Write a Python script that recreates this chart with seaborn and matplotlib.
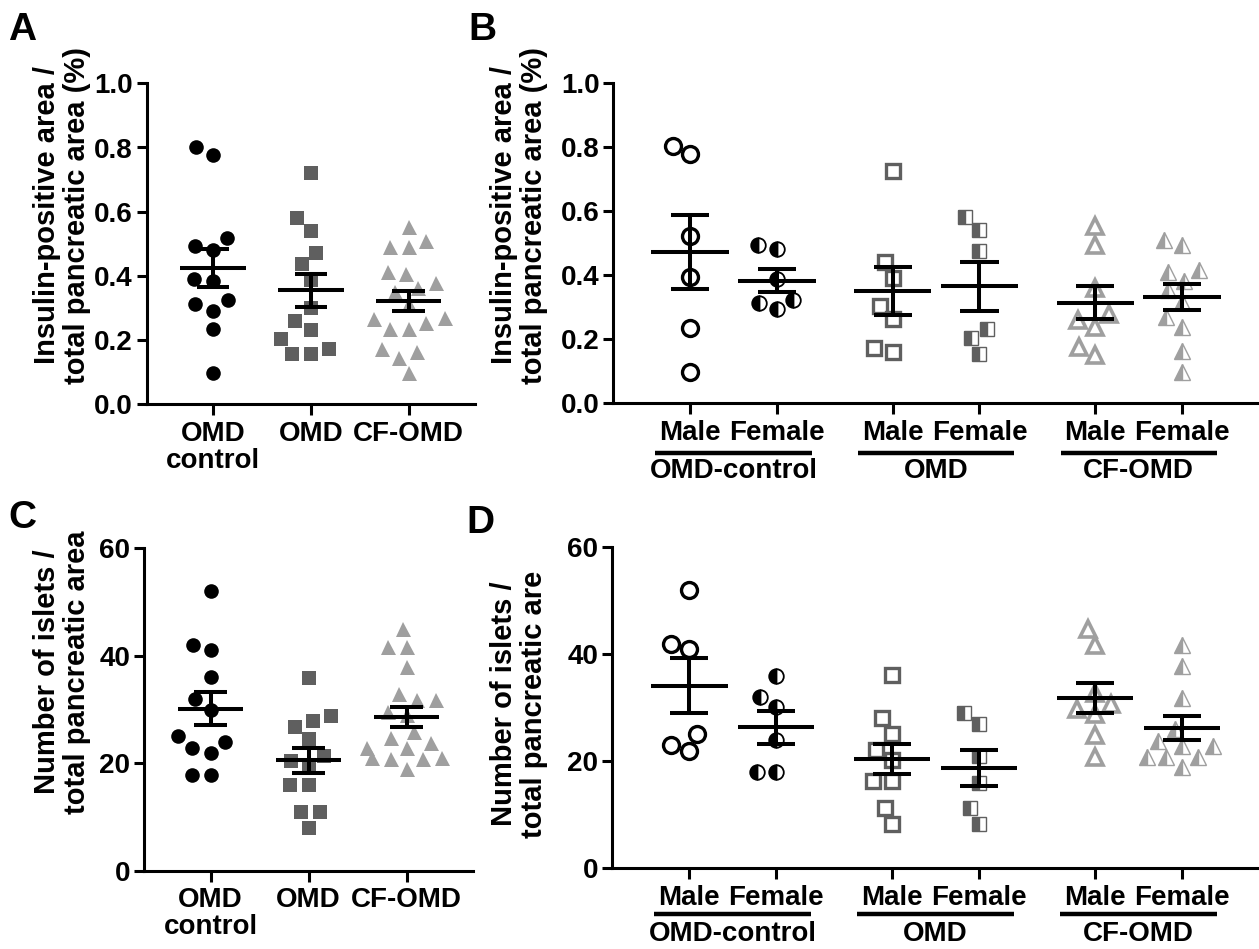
import numpy as np
import seaborn as sns
import matplotlib
matplotlib.use("Agg")
import matplotlib.pyplot as plt
from matplotlib.transforms import blended_transform_factory

# ---------------- data ----------------
groups_simple = ["OMD\ncontrol", "OMD", "CF-OMD"]
groups_sex = ["OMD-control", "OMD", "CF-OMD"]
sexes = ["Male", "Female"]

a_control = [0.80, 0.777, 0.519, 0.494, 0.481, 0.389, 0.385, 0.325, 0.312, 0.292, 0.234, 0.097]
a_omd = [0.722, 0.579, 0.540, 0.472, 0.436, 0.387, 0.301, 0.261, 0.232, 0.203, 0.171, 0.158, 0.156]
a_cfomd = [0.553, 0.510, 0.491, 0.491, 0.413, 0.406, 0.377, 0.361, 0.351, 0.312,
           0.268, 0.265, 0.254, 0.234, 0.234, 0.171, 0.164, 0.145, 0.097]

b_control_m = [0.805, 0.780, 0.522, 0.395, 0.236, 0.098]
b_control_f = [0.496, 0.483, 0.389, 0.324, 0.314, 0.295]
b_omd_m = [0.727, 0.441, 0.390, 0.304, 0.262, 0.174, 0.160]
b_omd_f = [0.581, 0.543, 0.475, 0.233, 0.205, 0.155]
b_cfomd_m = [0.555, 0.494, 0.361, 0.278, 0.260, 0.239, 0.177, 0.150]
b_cfomd_f = [0.511, 0.496, 0.418, 0.410, 0.382, 0.353, 0.316, 0.270, 0.238, 0.163, 0.098]

c_control = [52.1, 42.0, 41.0, 36.0, 31.9, 29.9, 25.0, 24.0, 22.8, 21.9, 17.8, 17.8]
c_omd = [35.9, 28.8, 27.9, 26.8, 24.5, 21.4, 20.5, 19.5, 15.9, 15.9, 11.0, 11.0, 7.9]
c_cfomd = [45.0, 41.7, 41.7, 37.9, 32.9, 31.8, 31.8, 29.6, 29.0, 25.9, 24.7, 23.7,
           22.8, 22.8, 20.9, 20.9, 20.7, 20.7, 18.9]

d_control_m = [51.9, 41.9, 40.9, 25.0, 23.0, 21.9]
d_control_f = [35.8, 31.9, 30.1, 24.0, 18.0, 18.0]
d_omd_m = [36.1, 28.0, 25.1, 22.1, 20.2, 16.2, 16.2, 11.3, 8.2]
d_omd_f = [29.0, 27.0, 20.9, 16.0, 11.2, 8.2]
d_cfomd_m = [44.7, 41.6, 32.7, 30.7, 29.8, 28.8, 24.8, 20.8]
d_cfomd_f = [41.6, 37.7, 31.8, 25.9, 23.8, 22.8, 22.8, 20.8, 20.8, 20.8, 18.9]

yticks_ab = [0.0, 0.2, 0.4, 0.6, 0.8, 1.0]
yticks_cd = [0, 20, 40, 60]

ylabel_a = "Insulin-positive area /\ntotal pancreatic area (%)"
ylabel_c = "Number of islets /\ntotal pancreatic area"
ylabel_d = "Number of islets /\ntotal pancreatic are"

# ---------------- style ----------------
sns.set_style("ticks", {"axes.edgecolor": "black", "xtick.color": "black",
                        "ytick.color": "black", "text.color": "black",
                        "axes.labelcolor": "black"})
plt.rcParams["font.family"] = ["Liberation Sans", "DejaVu Sans"]
plt.rcParams["font.weight"] = "bold"
plt.rcParams["axes.labelweight"] = "bold"
plt.rcParams["text.color"] = "black"

BLACK = "#000000"
DARK = "#5f5f5f"
LIGHT = "#9f9f9f"
LW = 2.9
SPINE = 2.2
FS = 20
SWARM_SIZE = 13.0  # spacing used for the beeswarm layout

W, H = 1259, 949
fig = plt.figure(figsize=(W / 100, H / 100), dpi=100)


def add_ax(l, t, r, b):
    return fig.add_axes([l / W, 1 - b / H, (r - l) / W, (b - t) / H])


axA = add_ax(146.7, 83.3, 475, 404.3)
axB = add_ax(613.3, 83.3, 1257, 403.3)
axC = add_ax(144, 548.3, 473.3, 870.7)
axD = add_ax(612.3, 546.7, 1257, 868.3)

pending = []


def swarm(ax, st, **kw):
    n0 = len(ax.collections)
    sns.swarmplot(ax=ax, color=st["color"], marker="o", size=SWARM_SIZE,
                  linewidth=0, zorder=2, **kw)
    pending.append((ax, list(ax.collections[n0:]), st))


def mean_sem(ax, x, vals, hw, cw):
    v = np.asarray(vals, float)
    m = v.mean()
    se = v.std(ddof=1) / np.sqrt(len(v))
    ax.hlines(m, x - hw, x + hw, color="k", lw=LW, zorder=6)
    ax.vlines(x, m - se, m + se, color="k", lw=LW, zorder=6)
    ax.hlines([m - se, m + se], x - cw, x + cw, color="k", lw=LW, zorder=6)


def style_axis(ax, ylim, yticks, fmt):
    sns.despine(ax=ax)
    for s in ("left", "bottom"):
        ax.spines[s].set_linewidth(SPINE)
    ax.set_ylim(*ylim)
    ax.set_yticks(yticks)
    ax.set_yticklabels([fmt.format(v) for v in yticks])
    ax.tick_params(axis="both", width=SPINE, length=7, labelsize=FS, pad=3,
                   colors="black")
    ax.set_xlabel("")
    ax.set_ylabel("")


simple_styles = [
    dict(color=BLACK, marker="o", kind="full", ms=10.5, mew=0),
    dict(color=DARK, marker="s", kind="full", ms=9.6, mew=0),
    dict(color=LIGHT, marker="^", kind="full", ms=10.8, mew=0),
]


def simple_panel(ax, series, ylim, yticks, fmt, hw, cw):
    for i, (vals, st) in enumerate(zip(series, simple_styles)):
        swarm(ax, st, x=[groups_simple[i]] * len(vals), y=vals, order=groups_simple)
        mean_sem(ax, i, vals, hw, cw)
    ax.set_xlim(-0.68, 2.68)
    style_axis(ax, ylim, yticks, fmt)
    ax.tick_params(axis="x", length=8, pad=4)
    ax.set_xticks(range(3))
    ax.set_xticklabels(groups_simple, linespacing=1.05)


simple_panel(axA, [a_control, a_omd, a_cfomd], (0, 1.0), yticks_ab, "{:.1f}", 0.335, 0.165)
simple_panel(axC, [c_control, c_omd, c_cfomd], (0, 60), yticks_cd, "{:.0f}", 0.335, 0.17)

# sex-split panels: group g, sex s -> position g*(2+1/3)+s
positions = [g * (2 + 1 / 3) + s for g in range(3) for s in range(2)]

sex_styles = [
    dict(color=BLACK, marker="o", kind="open", ms=11.5, mew=2.4),
    dict(color=BLACK, marker="o", kind="half", ms=10.5, mew=1.3),
    dict(color=DARK, marker="s", kind="open", ms=10.5, mew=2.4),
    dict(color=DARK, marker="s", kind="half", ms=10.5, mew=1.0),
    dict(color=LIGHT, marker="^", kind="open", ms=11.5, mew=2.6),
    dict(color=LIGHT, marker="^", kind="half", ms=11, mew=1.0),
]


def sex_panel(ax, series, ylim, yticks, fmt, hw, cw, bar_y, label_y):
    for k, (vals, st) in enumerate(zip(series, sex_styles)):
        x = positions[k]
        swarm(ax, st, x=np.full(len(vals), x), y=vals, native_scale=True, orient="x")
        mean_sem(ax, x, vals, hw, cw)
    ax.set_xlim(-0.885, 6.53)
    style_axis(ax, ylim, yticks, fmt)
    ax.tick_params(axis="x", length=8, pad=4)
    ax.set_xticks(positions)
    ax.set_xticklabels(sexes * 3)
    tr = blended_transform_factory(ax.transData, ax.transAxes)
    for g, name in enumerate(groups_sex):
        c = (positions[2 * g] + positions[2 * g + 1]) / 2
        ax.plot([c - 0.9, c + 0.9], [bar_y, bar_y], color="k", lw=3.2,
                transform=tr, clip_on=False, solid_capstyle="butt")
        ax.text(c, label_y, name, transform=tr, ha="center", va="center",
                fontsize=FS, fontweight="bold", color="black")


sex_panel(axB, [b_control_m, b_control_f, b_omd_m, b_omd_f, b_cfomd_m, b_cfomd_f],
          (0, 1.0), yticks_ab, "{:.1f}", 0.446, 0.22, -0.155, -0.212)
sex_panel(axD, [d_control_m, d_control_f, d_omd_m, d_omd_f, d_cfomd_m, d_cfomd_f],
          (0, 60), yticks_cd, "{:.0f}", 0.44, 0.217, -0.142, -0.205)

# swarm positions are computed at draw time; then draw the final marker styles
fig.canvas.draw()
for ax, colls, st in pending:
    offs = [np.asarray(c.get_offsets()) for c in colls]
    offs = [o for o in offs if len(o)]
    for c in colls:
        c.remove()
    if not offs:
        continue
    off = np.vstack(offs)
    if st["kind"] == "full":
        ax.plot(off[:, 0], off[:, 1], ls="none", marker=st["marker"], ms=st["ms"],
                mfc=st["color"], mec=st["color"], mew=0, zorder=2)
    elif st["kind"] == "open":
        ax.plot(off[:, 0], off[:, 1], ls="none", marker=st["marker"], ms=st["ms"],
                mfc="white", mec=st["color"], mew=st["mew"], zorder=2)
    else:
        ax.plot(off[:, 0], off[:, 1], ls="none", marker=st["marker"], ms=st["ms"],
                fillstyle="left", mfc=st["color"], mfcalt="white", mec=st["color"],
                mew=st["mew"], zorder=2)

# y labels and panel letters
lab_kw = dict(rotation=90, ha="center", va="center", fontsize=21, fontweight="bold",
              multialignment="center", linespacing=1.1, color="black")
fig.text(62 / W, 1 - 215 / H, ylabel_a, **lab_kw)
fig.text(519 / W, 1 - 215 / H, ylabel_a, **lab_kw)
fig.text(62 / W, 1 - 672 / H, ylabel_c, **lab_kw)
fig.text(519 / W, 1 - 704 / H, ylabel_d, **lab_kw)

for letter, x, y in [("A", 8, 12), ("B", 468, 12), ("C", 8, 500), ("D", 466, 505)]:
    fig.text(x / W, 1 - y / H, letter, ha="left", va="top", fontsize=28,
             fontweight="bold", color="black")

fig.savefig("out.png", dpi=100)
